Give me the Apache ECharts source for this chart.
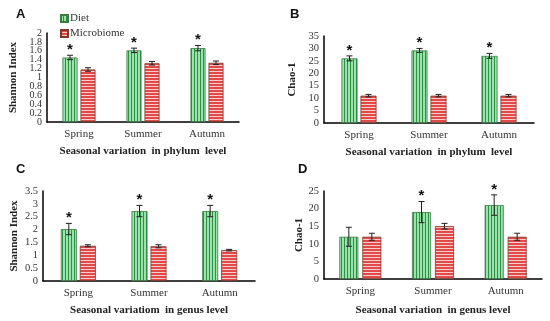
<!DOCTYPE html>
<html>
<head>
<meta charset="utf-8">
<script src="https://cdn.jsdelivr.net/npm/echarts@6/dist/echarts.min.js"></script>
<style>html,body{margin:0;padding:0;background:#fff;}#c{width:550px;height:321px;}</style>
</head>
<body>
<div id="c"></div>
<script>
// ---- data ----
const categories = ['Spring', 'Summer', 'Autumn'];
const seriesNames = ['Diet', 'Microbiome'];

const dietA = [1.45, 1.61, 1.66];
const dietErrA = [0.05, 0.05, 0.06];
const microA = [1.18, 1.32, 1.33];
const microErrA = [0.04, 0.04, 0.04];
const sigA = [1, 1, 1];

const dietB = [26, 29.2, 27];
const dietErrB = [1, 0.8, 1];
const microB = [11, 11, 11];
const microErrB = [0.5, 0.5, 0.5];
const sigB = [1, 1, 1];

const dietC = [2.02, 2.72, 2.72];
const dietErrC = [0.22, 0.22, 0.22];
const microC = [1.37, 1.35, 1.2];
const microErrC = [0.04, 0.06, 0.03];
const sigC = [1, 1, 1];

const dietD = [12, 19, 21];
const dietErrD = [2.7, 3, 2.9];
const microD = [12, 15, 12];
const microErrD = [1, 0.8, 1];
const sigD = [0, 1, 1];

const yTicksA = { min: 0, max: 2, interval: 0.2 };
const yTicksB = { min: 0, max: 35, interval: 5 };
const yTicksC = { min: 0, max: 3.5, interval: 0.5 };
const yTicksD = { min: 0, max: 25, interval: 5 };

// ---- patterns ----
function makePattern(vertical, base, line) {
  const cv = document.createElement('canvas');
  cv.width = 3; cv.height = 3;
  const ctx = cv.getContext('2d');
  ctx.fillStyle = base; ctx.fillRect(0, 0, 3, 3);
  ctx.fillStyle = line;
  if (vertical) ctx.fillRect(2, 0, 1, 3); else ctx.fillRect(0, 2, 3, 1);
  return { image: cv, repeat: 'repeat' };
}
const dietPattern = makePattern(true, '#9be3ad', '#2f8f45');
const microPattern = makePattern(false, '#e24a4a', '#f9cccc');

const serif = 'Liberation Serif';

const panels = [
  { grid: { left: 47, top: 33, width: 192, height: 89 }, y: yTicksA, yname: 'Shannon Index', xname: 'Seasonal variation  in phylum  level', diet: dietA, dErr: dietErrA, micro: microA, mErr: microErrA, sig: sigA, bw: 15, gap: 3, nameGap: 28, yfs: 10, xng: 24, split: true },
  { grid: { left: 324, top: 36, width: 210, height: 87 }, y: yTicksB, yname: 'Chao-1', xname: 'Seasonal variation  in phylum  level', diet: dietB, dErr: dietErrB, micro: microB, mErr: microErrB, sig: sigB, bw: 16, gap: 3, nameGap: 26, yfs: 10.5, xng: 24 },
  { grid: { left: 43, top: 191, width: 212, height: 90 }, y: yTicksC, yname: 'Shannon Index', xname: 'Seasonal variatiom  in genus level', diet: dietC, dErr: dietErrC, micro: microC, mErr: microErrC, sig: sigC, bw: 16, gap: 3, nameGap: 23, yfs: 10.5, xng: 24 },
  { grid: { left: 324, top: 191, width: 218, height: 88 }, y: yTicksD, yname: 'Chao-1', xname: 'Seasonal variation  in genus level', diet: dietD, dErr: dietErrD, micro: microD, mErr: microErrD, sig: sigD, bw: 19, gap: 4, nameGap: 17, yfs: 10.5, xng: 26 }
];

const grids = [], xAxes = [], yAxes = [], series = [];

function labelStyle(p, fmt) {
  const o = { fontFamily: serif, fontSize: p.yfs, color: '#333', margin: 5, showMinLabel: true, showMaxLabel: true, hideOverlap: false };
  if (fmt) o.formatter = fmt;
  return o;
}

panels.forEach((p, i) => {
  grids.push(p.grid);
  xAxes.push({
    type: 'category', gridIndex: i, data: categories,
    name: p.xname, nameLocation: 'middle', nameGap: p.xng,
    nameTextStyle: { fontFamily: serif, fontWeight: 'bold', fontSize: 11, color: '#222' },
    axisLine: { lineStyle: { color: '#000', width: 1.5 } },
    axisTick: { show: false },
    axisLabel: { fontFamily: serif, fontSize: 11, color: '#333', margin: 7 }
  });
  const stepIdx = v => Math.round((v - p.y.min) / p.y.interval);
  yAxes.push({
    type: 'value', gridIndex: i, min: p.y.min, max: p.y.max, interval: p.y.interval,
    name: p.yname, nameLocation: 'middle', nameGap: p.nameGap, nameRotate: 90,
    nameTextStyle: { fontFamily: serif, fontWeight: 'bold', fontSize: 11, color: '#222' },
    axisLine: { show: true, lineStyle: { color: '#000', width: 1.5 } },
    axisTick: { show: false },
    splitLine: { show: false },
    axisLabel: labelStyle(p, p.split ? (v => stepIdx(v) % 2 === 0 ? String(+v.toFixed(2)) : '') : null)
  });
  const yIdx = yAxes.length - 1;
  if (p.split) {
    yAxes.push({
      type: 'value', gridIndex: i, min: p.y.min, max: p.y.max, interval: p.y.interval,
      position: 'left', offset: 0,
      axisLine: { show: false }, axisTick: { show: false }, splitLine: { show: false },
      axisLabel: labelStyle(p, v => stepIdx(v) % 2 === 1 ? String(+v.toFixed(2)) : '')
    });
  }
  const gapPct = (p.gap / p.bw * 100) + '%';
  series.push({
    name: seriesNames[0], type: 'bar', xAxisIndex: i, yAxisIndex: yIdx, data: p.diet,
    barWidth: p.bw, barGap: gapPct,
    itemStyle: { color: dietPattern, borderColor: '#3d7a44', borderWidth: 0.8 }
  });
  series.push({
    name: seriesNames[1], type: 'bar', xAxisIndex: i, yAxisIndex: yIdx, data: p.micro,
    barWidth: p.bw, barGap: gapPct,
    itemStyle: { color: microPattern, borderColor: '#7a3a2a', borderWidth: 0.8 }
  });
  const off = (p.bw + p.gap) / 2;
  [[p.diet, p.dErr, p.sig, -off], [p.micro, p.mErr, [0, 0, 0], off]].forEach(([vals, errs, sig, o]) => {
    series.push({
      type: 'custom', xAxisIndex: i, yAxisIndex: yIdx, silent: true, z: 5,
      data: vals.map((v, k) => [k, v, errs[k], sig[k]]),
      encode: { x: 0, y: 1 },
      renderItem: function (params, api) {
        const idx = api.value(0), v = api.value(1), e = api.value(2), s = api.value(3);
        const top = api.coord([idx, v + e]);
        const bot = api.coord([idx, v - e]);
        const x = top[0] + o;
        const cap = 3;
        const ls = { stroke: '#222', lineWidth: 1 };
        const children = [
          { type: 'line', shape: { x1: x, y1: top[1], x2: x, y2: bot[1] }, style: ls },
          { type: 'line', shape: { x1: x - cap, y1: top[1], x2: x + cap, y2: top[1] }, style: ls },
          { type: 'line', shape: { x1: x - cap, y1: bot[1], x2: x + cap, y2: bot[1] }, style: ls }
        ];
        if (s) {
          children.push({ type: 'text', style: { text: '*', x: x, y: top[1] - 13, align: 'center', verticalAlign: 'top', font: 'bold 15px "Liberation Sans"', fill: '#111' } });
        }
        return { type: 'group', children: children };
      }
    });
  });
});

const chart = echarts.init(document.getElementById('c'), null, { renderer: 'canvas' });
chart.setOption({
  animation: false,
  backgroundColor: '#fff',
  grid: grids,
  xAxis: xAxes,
  yAxis: yAxes,
  legend: {
    data: seriesNames, orient: 'vertical', left: 55, top: 8,
    itemWidth: 7, itemHeight: 7, itemGap: 4, icon: 'rect',
    textStyle: { fontFamily: serif, fontSize: 11, color: '#333', padding: [0, 0, 0, -3] }
  },
  graphic: [
    { type: 'text', left: 16, top: 8, style: { text: 'A', font: 'bold 13px "Liberation Sans"', fill: '#111' } },
    { type: 'text', left: 290, top: 8, style: { text: 'B', font: 'bold 13px "Liberation Sans"', fill: '#111' } },
    { type: 'text', left: 16, top: 163, style: { text: 'C', font: 'bold 13px "Liberation Sans"', fill: '#111' } },
    { type: 'text', left: 298, top: 163, style: { text: 'D', font: 'bold 13px "Liberation Sans"', fill: '#111' } }
  ],
  series: series
});
</script>
</body>
</html>
